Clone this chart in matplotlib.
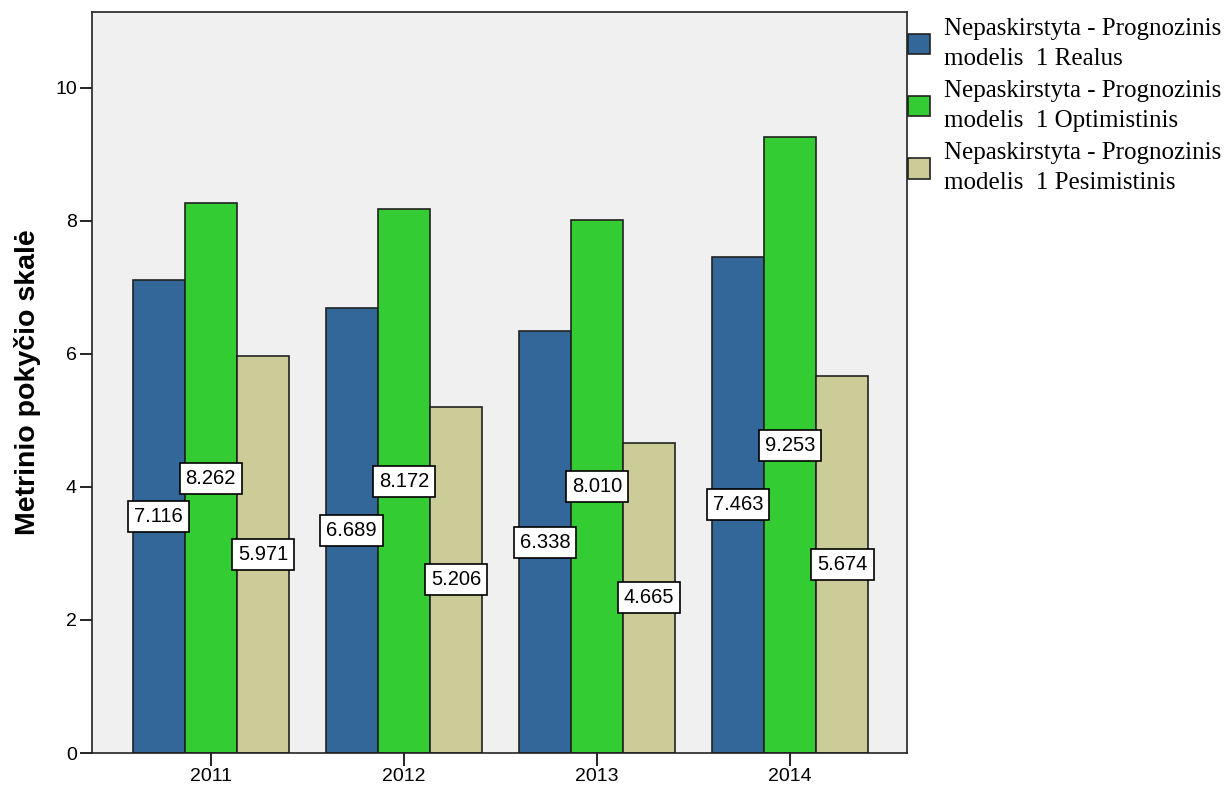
import numpy as np
import matplotlib
matplotlib.use("Agg")
import matplotlib.pyplot as plt

years = ["2011", "2012", "2013", "2014"]
realus = [7.116, 6.689, 6.338, 7.463]
optimistinis = [8.262, 8.172, 8.010, 9.253]
pesimistinis = [5.971, 5.206, 4.665, 5.674]
series_names = [
    "Nepaskirstyta - Prognozinis\nmodelis  1 Realus",
    "Nepaskirstyta - Prognozinis\nmodelis  1 Optimistinis",
    "Nepaskirstyta - Prognozinis\nmodelis  1 Pesimistinis",
]
colors = ["#336699", "#33cc33", "#cccc99"]

plt.rcParams["font.family"] = ["Liberation Sans", "DejaVu Sans"]

fig = plt.figure(figsize=(12.32, 7.91), dpi=100)
ax = fig.add_axes([0.0747, 0.048, 0.6615, 0.937])
ax.set_facecolor("#f0f0f0")

x = np.arange(len(years))
w = 0.27
handles = []
for i, (vals, c) in enumerate(zip([realus, optimistinis, pesimistinis], colors)):
    pos = x + (i - 1) * w
    b = ax.bar(pos, vals, width=w, color=c, edgecolor="#222222", linewidth=1.2, zorder=2)
    handles.append(b)
    # value labels sit at half the bar height
    for px, v in zip(pos, vals):
        ax.text(px, v / 2, f"{v:.3f}", ha="center", va="center", fontsize=14.5, zorder=4,
                bbox=dict(boxstyle="square,pad=0.3", fc="white", ec="black", lw=1.2))

ax.set_xlim(-0.615, 3.605)
ax.set_ylim(0, 11.14)
ax.set_xticks(x)
ax.set_xticklabels(years)
ax.set_yticks([0, 2, 4, 6, 8, 10])
ax.tick_params(axis="both", labelsize=14, length=9, width=1.2, pad=2, direction="out")
for s in ax.spines.values():
    s.set_linewidth(1.2)
    s.set_color("#222222")
ax.set_ylabel("Metrinio pokyčio skalė", fontsize=20.5, fontweight="bold", labelpad=10)

leg = fig.legend(handles, series_names, loc="upper left", bbox_to_anchor=(0.737, 0.977),
                 frameon=False, prop={"family": "Liberation Serif", "size": 18},
                 handlelength=0.9, handleheight=0.9, handletextpad=0.55,
                 labelspacing=0.42, borderpad=0, borderaxespad=0)
for t in leg.get_texts():
    t.set_linespacing(1.45)

fig.savefig("out.png", dpi=100)
